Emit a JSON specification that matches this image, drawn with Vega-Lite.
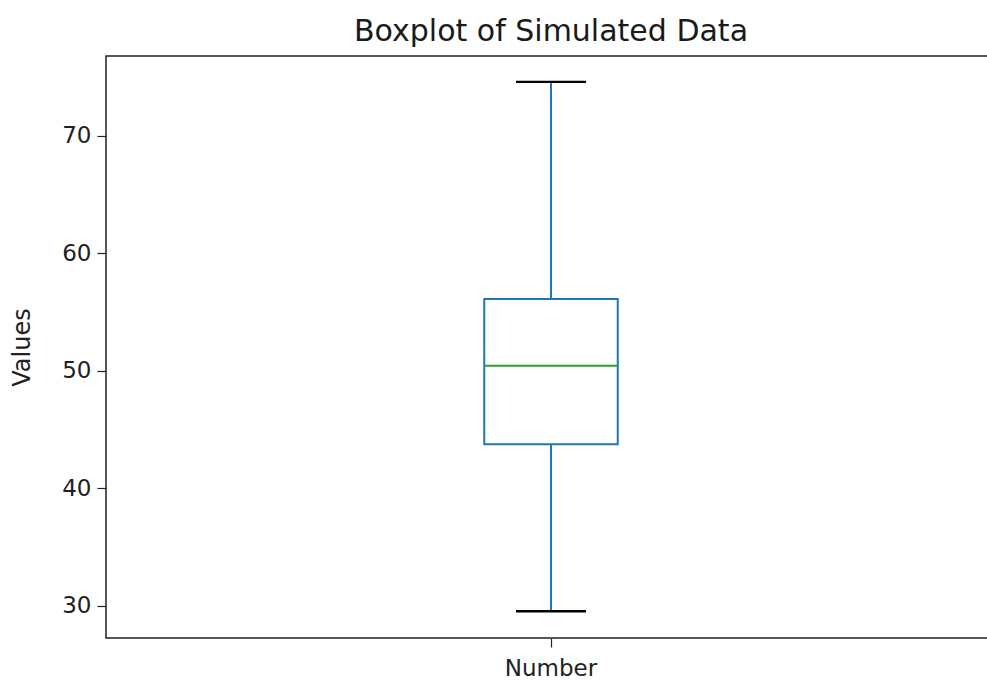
{
  "$schema": "https://vega.github.io/schema/vega-lite/v6.json",
  "autosize": "none",
  "padding": {"left": 106, "top": 56, "right": 0, "bottom": 43},
  "width": 890,
  "height": 582,
  "background": "white",
  "title": {
    "text": "Boxplot of Simulated Data",
    "font": "DejaVu Sans",
    "fontSize": 30,
    "fontWeight": "normal",
    "color": "#1a1a1a",
    "anchor": "middle",
    "baseline": "alphabetic",
    "offset": 15,
    "dy": 30
  },
  "config": {
    "view": {"stroke": "#222", "strokeWidth": 1.5},
    "axis": {
      "grid": false,
      "domain": false,
      "labelFont": "DejaVu Sans",
      "labelFontSize": 23,
      "labelColor": "#222",
      "titleFont": "DejaVu Sans",
      "titleFontSize": 24,
      "titleFontWeight": "normal",
      "titleColor": "#222",
      "tickColor": "#222",
      "tickSize": 9,
      "tickWidth": 1.2
    }
  },
  "data": {
    "values": [
      {"label": "Number", "min": 29.52, "q1": 43.74, "median": 50.41, "q3": 56.09, "max": 74.57}
    ]
  },
  "encoding": {
    "x": {
      "field": "label",
      "type": "nominal",
      "scale": {"type": "band", "paddingInner": 0, "paddingOuter": 0},
      "axis": {"title": null, "labelAngle": 0, "labelPadding": 10}
    }
  },
  "layer": [
    {
      "mark": {"type": "rule", "color": "#1f77b4", "strokeWidth": 2},
      "encoding": {
        "y": {
          "field": "min",
          "type": "quantitative",
          "scale": {"domain": [27.25, 76.77], "nice": false, "zero": false},
          "axis": {"title": "Values", "values": [30, 40, 50, 60, 70], "labelPadding": 6, "titlePadding": 27}
        },
        "y2": {"field": "q1"}
      }
    },
    {
      "mark": {"type": "rule", "color": "#1f77b4", "strokeWidth": 2},
      "encoding": {
        "y": {"field": "q3", "type": "quantitative"},
        "y2": {"field": "max"}
      }
    },
    {
      "mark": {"type": "bar", "width": {"band": 0.15}, "fill": "white", "stroke": "#1f77b4", "strokeWidth": 2},
      "encoding": {
        "y": {"field": "q1", "type": "quantitative"},
        "y2": {"field": "q3"}
      }
    },
    {
      "mark": {"type": "tick", "color": "#2ca02c", "size": 133, "thickness": 2, "opacity": 1},
      "encoding": {
        "y": {"field": "median", "type": "quantitative"}
      }
    },
    {
      "mark": {"type": "tick", "color": "black", "size": 70, "thickness": 2.4, "opacity": 1},
      "encoding": {
        "y": {"field": "min", "type": "quantitative"}
      }
    },
    {
      "mark": {"type": "tick", "color": "black", "size": 70, "thickness": 2.4, "opacity": 1},
      "encoding": {
        "y": {"field": "max", "type": "quantitative"}
      }
    }
  ]
}
